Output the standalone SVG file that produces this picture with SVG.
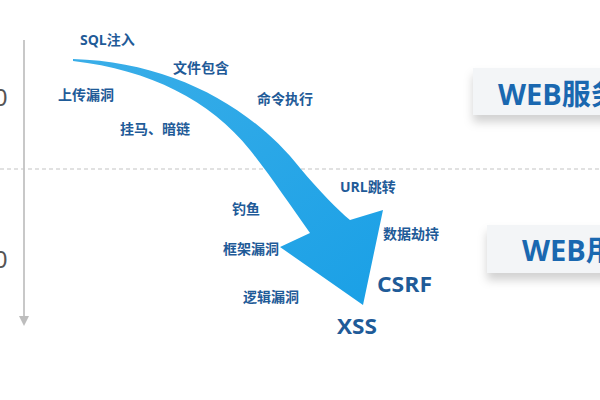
<svg xmlns="http://www.w3.org/2000/svg" width="600" height="400" viewBox="0 0 600 400">
<style>
.lbl{font-family:"Open Sans","Noto Sans CJK SC",sans-serif;font-weight:700;font-size:14px;fill:#1f5b98}
.big{font-family:"Open Sans","Noto Sans CJK SC",sans-serif;font-weight:700;font-size:22px;fill:#1f5b98}
.box{fill:#f3f5f7}
.boxt{font-family:"Open Sans","Noto Sans CJK SC",sans-serif;font-weight:700;font-size:29px;fill:#1a68b0}
.axis{font-family:"Liberation Sans",sans-serif;font-size:24px;fill:#555}
</style>
<defs>
<filter id="sh" x="-20%" y="-30%" width="140%" height="180%">
<feDropShadow dx="0" dy="7" stdDeviation="5" flood-color="#000" flood-opacity="0.18"/>
</filter>
<linearGradient id="ag" x1="0" y1="0" x2="1" y2="1">
<stop offset="0" stop-color="#3aaee8"/>
<stop offset="1" stop-color="#1aa0e6"/>
</linearGradient>
</defs>
<rect width="600" height="400" fill="#ffffff"/>
<g id="axis">
<line x1="24" y1="40" x2="24" y2="318" stroke="#c8c8c8" stroke-width="2"/>
<polygon points="19,316 29,316 24,326" fill="#bdbdbd"/>
<line x1="0" y1="169" x2="600" y2="169" stroke="#c4c4c4" stroke-width="1.2" stroke-dasharray="4,3"/>
<text class="axis" x="-6" y="106">0</text>
<text class="axis" x="-6" y="268">0</text>
</g>
<g id="connectors">
<path d="M73,59 C170,62 250,105 300,168 C320,192 338,210 350,220 L383,210 L363,305 L280,247 L310,233 C290,205 270,175 250,150 C210,100 150,70 73,61 Z" fill="url(#ag)"/>
</g>
<g id="labels">
<text class="lbl" x="80" y="45">SQL注入</text>
<text class="lbl" x="173" y="73">文件包含</text>
<text class="lbl" x="58" y="100">上传漏洞</text>
<text class="lbl" x="257" y="104">命令执行</text>
<text class="lbl" x="120" y="134">挂马、暗链</text>
<text class="lbl" x="340" y="192">URL跳转</text>
<text class="lbl" x="232" y="214">钓鱼</text>
<text class="lbl" x="223" y="254">框架漏洞</text>
<text class="lbl" x="243" y="302">逻辑漏洞</text>
<text class="lbl" x="383" y="239">数据劫持</text>
<text class="big" x="377" y="292" textLength="55" lengthAdjust="spacingAndGlyphs">CSRF</text>
<text class="big" x="337" y="334" textLength="40" lengthAdjust="spacingAndGlyphs">XSS</text>
</g>
<g id="box1">
<rect class="box" x="473" y="68" width="140" height="47" filter="url(#sh)"/>
<text class="boxt" x="498" y="105">WEB服务</text>
</g>
<g id="box2">
<rect class="box" x="487" y="225" width="130" height="48" filter="url(#sh)"/>
<text class="boxt" x="522" y="261">WEB用户</text>
</g>
</svg>
